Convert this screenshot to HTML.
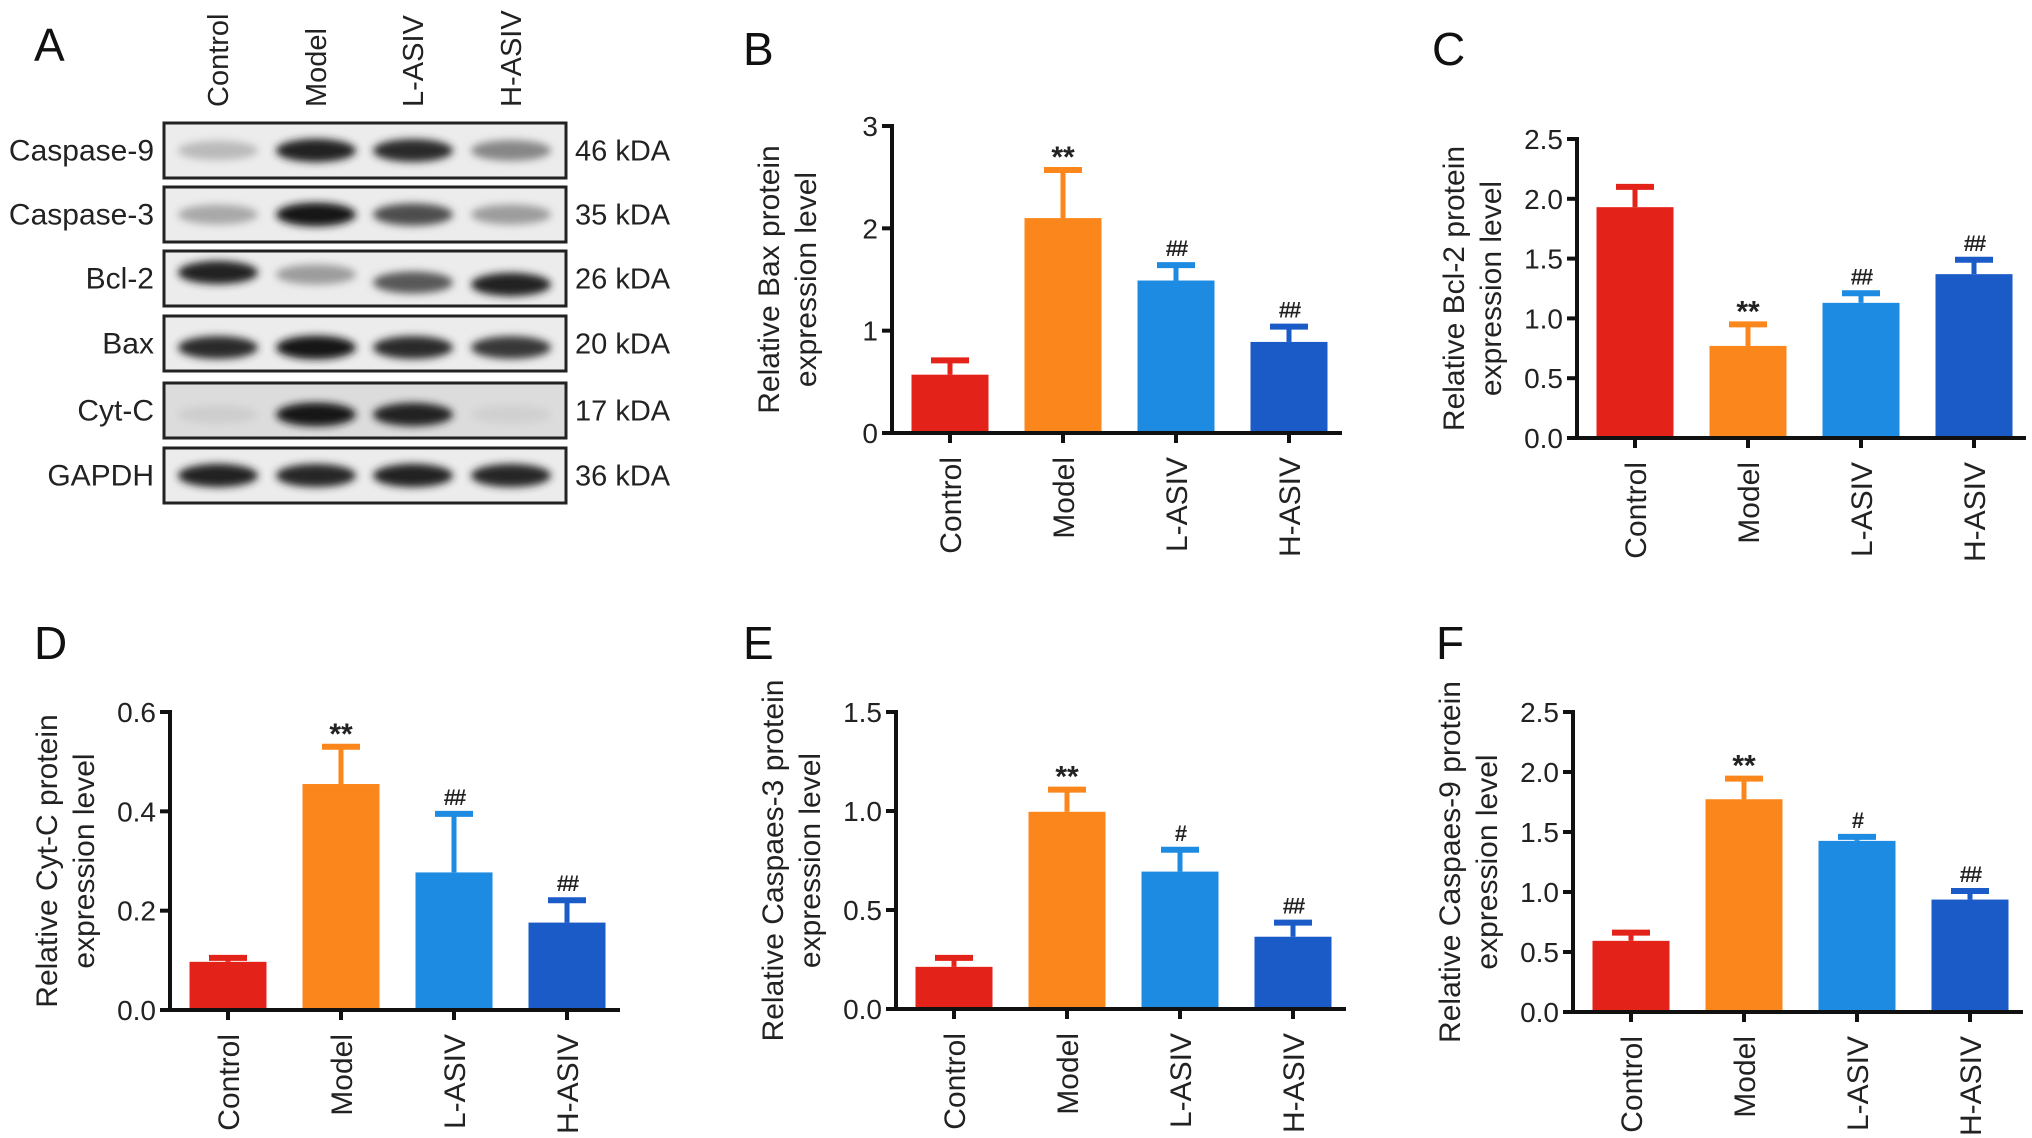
<!DOCTYPE html>
<html><head><meta charset="utf-8">
<style>
html,body{margin:0;padding:0;background:#fff;}
svg{display:block;font-family:"Liberation Sans",Arial,sans-serif;}
</style></head>
<body>
<svg id="fig" width="2032" height="1138" viewBox="0 0 2032 1138" xmlns="http://www.w3.org/2000/svg">
<defs>
<filter id="blur" x="-30%" y="-100%" width="160%" height="300%"><feGaussianBlur stdDeviation="4"/></filter>
</defs>
<g font-size="46" fill="#111">
<text x="34" y="61">A</text>
<text x="743" y="65">B</text>
<text x="1432" y="65">C</text>
<text x="34" y="659">D</text>
<text x="743" y="659">E</text>
<text x="1436" y="659">F</text>
</g>
<g id="blot"></g>
<g id="charts"></g>
</svg>
<script>
const NS = "http://www.w3.org/2000/svg";
// ---- shared data ----
const categories = ["Control", "Model", "L-ASIV", "H-ASIV"];
const barColors = ["#e3221a", "#fb861c", "#1e8be2", "#1a5bc8"];

// Panel B - Bax
const baxMeans = [0.57, 2.10, 1.49, 0.89];
const baxErr = [0.14, 0.47, 0.15, 0.15];
const baxSig = ["", "**", "##", "##"];
const baxTicks = [0, 1, 2, 3];
const baxTickLabels = ["0", "1", "2", "3"];
// Panel C - Bcl-2
const bclMeans = [1.93, 0.77, 1.13, 1.37];
const bclErr = [0.17, 0.18, 0.08, 0.12];
const bclSig = ["", "**", "##", "##"];
const bclTicks = [0, 0.5, 1.0, 1.5, 2.0, 2.5];
const bclTickLabels = ["0.0", "0.5", "1.0", "1.5", "2.0", "2.5"];
// Panel D - Cyt-C
const cytMeans = [0.097, 0.455, 0.277, 0.176];
const cytErr = [0.008, 0.075, 0.118, 0.045];
const cytSig = ["", "**", "##", "##"];
const cytTicks = [0, 0.2, 0.4, 0.6];
const cytTickLabels = ["0.0", "0.2", "0.4", "0.6"];
// Panel E - Caspase-3
const c3Means = [0.213, 0.996, 0.694, 0.365];
const c3Err = [0.045, 0.112, 0.11, 0.071];
const c3Sig = ["", "**", "#", "##"];
const c3Ticks = [0, 0.5, 1.0, 1.5];
const c3TickLabels = ["0.0", "0.5", "1.0", "1.5"];
// Panel F - Caspase-9
const c9Means = [0.593, 1.773, 1.426, 0.937];
const c9Err = [0.068, 0.172, 0.033, 0.071];
const c9Sig = ["", "**", "#", "##"];
const c9Ticks = [0, 0.5, 1.0, 1.5, 2.0, 2.5];
const c9TickLabels = ["0.0", "0.5", "1.0", "1.5", "2.0", "2.5"];

// Western blot band intensities (0..1) per row, per lane
const blotRows = ["Caspase-9", "Caspase-3", "Bcl-2", "Bax", "Cyt-C", "GAPDH"];
const blotSizes = ["46 kDA", "35 kDA", "26 kDA", "20 kDA", "17 kDA", "36 kDA"];
const casp9Bands = [0.22, 0.9, 0.85, 0.45];
const casp3Bands = [0.3, 0.95, 0.7, 0.35];
const bcl2Bands = [0.9, 0.35, 0.65, 0.9];
const baxBands = [0.85, 0.95, 0.85, 0.8];
const cytcBands = [0.13, 0.95, 0.9, 0.12];
const gapdhBands = [0.9, 0.88, 0.9, 0.88];

function el(tag, attrs, parent, text) {
  const e = document.createElementNS(NS, tag);
  for (const k in attrs) e.setAttribute(k, attrs[k]);
  if (text !== undefined) e.textContent = text;
  parent.appendChild(e);
  return e;
}

// ---- Western blot ----
(function () {
  const g = document.getElementById("blot");
  const bandSets = [casp9Bands, casp3Bands, bcl2Bands, baxBands, cytcBands, gapdhBands];
  const boxTops = [123, 187, 251, 316, 383, 448];
  const boxH = 55, boxL = 164, boxR = 566;
  const laneX = [218, 316, 413, 511];
  const bandOffset = [0, 0, [-6, -4, 4, 6], 4, 4, 0];
  categories.forEach((c, i) => {
    const t = el("text", {x: laneX[i] + 10, y: 107, "font-size": 29, fill: "#222", transform: `rotate(-90 ${laneX[i] + 10} 107)`}, g, c);
    
    
  });
  blotRows.forEach((r, ri) => {
    const top = boxTops[ri];
    const cy = top + boxH / 2;
    const box = el("rect", {x: boxL, y: top, width: boxR - boxL, height: boxH, fill: ri === 4 ? "#dcdcdc" : "#ececec", stroke: "#222", "stroke-width": 3}, g);
    
    
    bandSets[ri].forEach((v, li) => {
      const off = Array.isArray(bandOffset[ri]) ? bandOffset[ri][li] : bandOffset[ri];
      const shade = Math.round(235 - v * 225);
      const b = el("ellipse", {cx: laneX[li], cy: cy + off, rx: 40, ry: 9 + v * 3, fill: `rgb(${shade},${shade},${shade})`, filter: "url(#blur)"}, g);
      
      
    });
    const lbl = el("text", {x: 154, y: cy + 10, "text-anchor": "end", "font-size": 30, fill: "#222"}, g, r);
    
    
    const kd = el("text", {x: 575, y: cy + 10, "font-size": 29, fill: "#222"}, g, blotSizes[ri]);
    
    
  });
})();

// ---- Bar charts ----
function drawChart(name, L, means, errs, sig, ticks, tickLabels, titleLines) {
  const root = document.getElementById("charts");
  const g = el("g", {}, root);
  
  
  const max = ticks[ticks.length - 1];
  const y = v => L.y0 - (v / max) * (L.y0 - L.yTop);
  const x = i => L.ax + 58 + i * 113;
  const bw = 77;
  means.forEach((m, i) => {
    const top = y(m + errs[i]);
    const eb = el("line", {x1: x(i), x2: x(i), y1: y(m), y2: top, stroke: barColors[i], "stroke-width": 5}, g);
    
    
    const cap = el("line", {x1: x(i) - 19, x2: x(i) + 19, y1: top, y2: top, stroke: barColors[i], "stroke-width": 6}, g);
    
    
    const bar = el("rect", {x: x(i) - bw / 2, y: y(m), width: bw, height: L.y0 - y(m), fill: barColors[i]}, g);
    
    
    if (sig[i]) {
      const isStar = sig[i].indexOf("*") >= 0;
      const s = el("text", {x: x(i), y: top - (isStar ? 3 : 9), "text-anchor": "middle", "font-size": isStar ? 30 : 22, "font-weight": "bold", fill: "#222", "letter-spacing": isStar ? 0 : -2}, g, sig[i]);
      
      
    }
    const tk = el("line", {x1: x(i), x2: x(i), y1: L.y0, y2: L.y0 + 10, stroke: "#111", "stroke-width": 4}, g);
    
    
    const lx = x(i) + 11, ly = L.y0 + 24;
    const cl = el("text", {x: lx, y: ly, "text-anchor": "end", "font-size": 30, fill: "#222", transform: `rotate(-90 ${lx} ${ly})`}, g, categories[i]);
    
    
  });
  const yAx = el("line", {x1: L.ax, x2: L.ax, y1: L.yTop - 2, y2: L.y0 + 2, stroke: "#111", "stroke-width": 4}, g);
  
  
  const xAx = el("line", {x1: L.ax - 10, x2: L.xEnd, y1: L.y0, y2: L.y0, stroke: "#111", "stroke-width": 4}, g);
  
  
  ticks.forEach((t, i) => {
    const tl = el("line", {x1: L.ax - 10, x2: L.ax, y1: y(t), y2: y(t), stroke: "#111", "stroke-width": 4}, g);
    
    
    const tt = el("text", {x: L.ax - 14, y: y(t) + 10, "text-anchor": "end", "font-size": 28, fill: "#222"}, g, tickLabels[i]);
    
    
  });
  const cy = (L.y0 + L.yTop) / 2;
  titleLines.forEach((ln, k) => {
    const tx = L.ax - (k === 0 ? 113 : 76);
    const t = el("text", {x: tx, y: cy, "text-anchor": "middle", "font-size": 30, fill: "#222", transform: `rotate(-90 ${tx} ${cy})`}, g, ln);
    
    
  });
}

drawChart("chart-bax", {ax: 892, xEnd: 1342, y0: 433, yTop: 126}, baxMeans, baxErr, baxSig, baxTicks, baxTickLabels, ["Relative Bax protein", "expression level"]);
drawChart("chart-bcl2", {ax: 1577, xEnd: 2026, y0: 438, yTop: 139}, bclMeans, bclErr, bclSig, bclTicks, bclTickLabels, ["Relative Bcl-2 protein", "expression level"]);
drawChart("chart-cytc", {ax: 170, xEnd: 620, y0: 1010, yTop: 712}, cytMeans, cytErr, cytSig, cytTicks, cytTickLabels, ["Relative Cyt-C protein", "expression level"]);
drawChart("chart-caspase3", {ax: 896, xEnd: 1346, y0: 1009, yTop: 712}, c3Means, c3Err, c3Sig, c3Ticks, c3TickLabels, ["Relative Caspaes-3 protein", "expression level"]);
drawChart("chart-caspase9", {ax: 1573, xEnd: 2023, y0: 1012, yTop: 712}, c9Means, c9Err, c9Sig, c9Ticks, c9TickLabels, ["Relative Caspaes-9 protein", "expression level"]);
</script>
</body></html>
